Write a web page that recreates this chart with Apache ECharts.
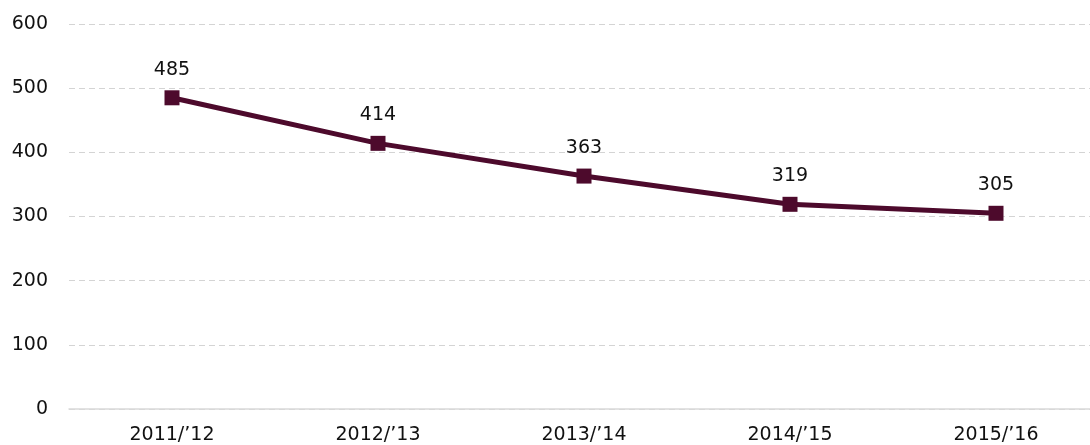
<!DOCTYPE html>
<html>
<head>
<meta charset="utf-8">
<script src="https://cdn.jsdelivr.net/npm/echarts@6/dist/echarts.min.js"></script>
<style>
  html, body { margin: 0; padding: 0; background: #fff; }
  #chart { width: 1090px; height: 445px; }
</style>
</head>
<body>
<div id="chart"></div>
<script>
const categories = ['2011/\u201912', '2012/\u201913', '2013/\u201914', '2014/\u201915', '2015/\u201916']
const values = [485, 414, 363, 319, 305]
const yTicks = { min: 0, max: 600, interval: 100 }

const lineColor = '#4d0a2c'
const fontFamily = 'DejaVu Sans'

let myChart = echarts.init(document.getElementById('chart'))
let option = {
    animation: false,
    grid: {
        left: 69,
        width: 1030,
        top: 24,
        bottom: 36,
        containLabel: false,
        outerBoundsMode: 'none'
    },
    xAxis: {
        type: 'category',
        data: categories,
        boundaryGap: true,
        axisLine: { show: true, lineStyle: { color: '#d9d9d9', width: 1.5 } },
        axisTick: { show: false },
        axisLabel: { color: '#111', fontSize: 19, fontFamily: fontFamily, margin: 17 }
    },
    yAxis: {
        type: 'value',
        min: yTicks.min,
        max: yTicks.max,
        interval: yTicks.interval,
        axisLine: { show: false },
        axisTick: { show: false },
        axisLabel: { color: '#111', fontSize: 19, fontFamily: fontFamily, margin: 21 },
        splitLine: { lineStyle: { color: '#d4d4d4', type: [6, 4], width: 1 } }
    },
    series: [{
        type: 'line',
        data: values,
        symbol: 'rect',
        symbolSize: 15,
        lineStyle: { color: lineColor, width: 5 },
        itemStyle: { color: lineColor },
        label: {
            show: true,
            position: 'top',
            distance: 11,
            color: '#111',
            fontSize: 19,
            fontFamily: fontFamily
        }
    }]
}
myChart.setOption(option)
</script>
</body>
</html>
